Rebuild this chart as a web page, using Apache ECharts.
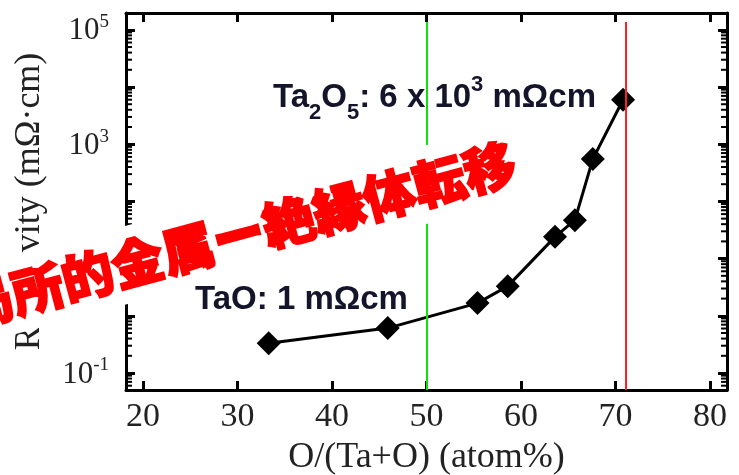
<!DOCTYPE html>
<html>
<head>
<meta charset="utf-8">
<script src="https://cdn.jsdelivr.net/npm/echarts@6/dist/echarts.min.js"></script>
<style>
  html, body { margin: 0; padding: 0; background: #fff; }
  #chart { width: 739px; height: 475px; }
</style>
</head>
<body>
<div id="chart"></div>
<script>
// Resistivity of TaOx films versus oxygen content
const oxygenPct   = [33.3, 45.9, 55.4, 58.6, 63.6, 65.7, 67.6, 70.8];
const resistivity = [0.33, 0.61, 1.67, 3.3, 24, 47, 550, 6000];

// axis ticks
const xTicks      = [20, 30, 40, 50, 60, 70, 80];
const yMajorTicks = [0.1, 1, 10, 100, 1000, 10000, 100000];
const yLabelTicks = [0.1, 10, 1000, 100000];

// reference compositions: TaO and Ta2O5
const taoPct   = 50;
const ta2o5Pct = 71.1;

const xMin = 18.2, xMax = 81.8;
const yMin = Math.pow(10, -1.297), yMax = Math.pow(10, 5.294);

// log minor ticks (2..9 in each decade)
const yMinorTicks = [];
for (let e = -2; e <= 5; e++) {
  for (let m = 2; m <= 9; m++) {
    const v = m * Math.pow(10, e);
    if (v > yMin && v < yMax) yMinorTicks.push(v);
  }
}

const serif = '"Liberation Serif", "Times New Roman", serif';
const sans = '"Liberation Sans", Arial, sans-serif';
const axisColor = '#000';
const textColor = '#222';

const chart = echarts.init(document.getElementById('chart'), null, { renderer: 'canvas' });

const lineStyle = { color: axisColor, width: 3 };
const majorTick = { show: true, inside: true, length: 9, lineStyle: { color: axisColor, width: 3 } };

const yBase = {
  type: 'log', logBase: 10, min: yMin, max: yMax,
  splitLine: { show: false },
  axisLine: { show: true, lineStyle: lineStyle },
  axisTick: Object.assign({}, majorTick, { customValues: yMajorTicks }),
  axisLabel: { show: false }
};

const xBase = {
  type: 'value', min: xMin, max: xMax,
  splitLine: { show: false },
  axisLine: { show: true, lineStyle: lineStyle },
  axisTick: Object.assign({}, majorTick, { customValues: xTicks }),
  axisLabel: { show: false }
};

// short inward minor ticks on the frame, placed by the log scale
function minorTickSeries(xEdge, offset) {
  return {
    type: 'scatter',
    xAxisIndex: 0,
    yAxisIndex: 0,
    silent: true,
    clip: false,
    z: 1,
    symbol: 'rect',
    symbolSize: [6, 2],
    symbolOffset: [offset, 0],
    itemStyle: { color: axisColor, opacity: 1 },
    emphasis: { disabled: true },
    data: yMinorTicks.map(v => [xEdge, v])
  };
}

const option = {
  backgroundColor: '#fff',
  animation: false,
  grid: { left: 126, right: 12, top: 13, bottom: 85, containLabel: false, outerBoundsMode: 'none' },
  xAxis: [
    Object.assign({}, xBase, {
      position: 'bottom',
      axisLabel: {
        show: true, customValues: xTicks, margin: 10,
        color: textColor, fontFamily: serif, fontSize: 34
      },
      name: 'O/(Ta+O) (atom%)',
      nameLocation: 'middle',
      nameGap: 50,
      nameTextStyle: { color: textColor, fontFamily: serif, fontSize: 36 }
    }),
    Object.assign({}, xBase, { position: 'top' })
  ],
  yAxis: [
    Object.assign({}, yBase, {
      position: 'left',
      axisLabel: {
        show: true, customValues: yLabelTicks, margin: 17,
        formatter: function (v) {
          const e = Math.round(Math.log10(v));
          if (e % 2 === 0) return '';
          return '{b|10}{s|' + (e < 0 ? '-' + (-e) : e) + '}';
        },
        rich: {
          b: { fontFamily: serif, fontSize: 31, color: textColor, lineHeight: 34, verticalAlign: 'bottom' },
          s: { fontFamily: serif, fontSize: 19, color: textColor, lineHeight: 34, verticalAlign: 'top' }
        }
      },
      name: 'Resistivity (mΩ·cm)',
      nameLocation: 'middle',
      nameGap: 78,
      nameTextStyle: { color: textColor, fontFamily: serif, fontSize: 36 }
    }),
    Object.assign({}, yBase, { position: 'right' })
  ],
  series: [
    minorTickSeries(xMin, 3),
    minorTickSeries(xMax, -3),
    {
      type: 'line',
      xAxisIndex: 0,
      yAxisIndex: 0,
      data: oxygenPct.map((x, i) => [x, resistivity[i]]),
      symbol: 'diamond',
      symbolSize: 24,
      itemStyle: { color: '#000' },
      lineStyle: { color: '#000', width: 3 },
      z: 3,
      markLine: {
        silent: true,
        symbol: 'none',
        z: 6,
        label: { show: false },
        data: [
          [{ coord: [taoPct, Math.pow(10, 5.136)], lineStyle: { color: '#10e010', width: 2, type: 'solid' } },
           { coord: [taoPct, yMin] }],
          [{ coord: [ta2o5Pct, Math.pow(10, 5.136)], lineStyle: { color: '#ff2020', width: 2, type: 'solid' } },
           { coord: [ta2o5Pct, yMin] }]
        ]
      }
    }
  ],
  graphic: [
    {
      type: 'text', left: 273, top: 74, z: 10,
      style: {
        text: '{n|Ta}{d|2}{n|O}{d|5}{n|: 6 x 10}{u|3}{n| mΩcm}',
        rich: {
          n: { fontFamily: sans, fontWeight: 'bold', fontSize: 33, fill: '#14142a', lineHeight: 40, verticalAlign: 'middle' },
          d: { fontFamily: sans, fontWeight: 'bold', fontSize: 22, fill: '#14142a', lineHeight: 40, verticalAlign: 'bottom', padding: [0, 0, -6, 0] },
          u: { fontFamily: sans, fontWeight: 'bold', fontSize: 22, fill: '#14142a', lineHeight: 40, verticalAlign: 'top', padding: [-4, 0, 0, 0] }
        }
      }
    },
    {
      type: 'text', left: 195, top: 283, z: 10,
      style: {
        text: 'TaO: 1 mΩcm',
        font: 'bold 33px ' + sans,
        fill: '#14142a'
      }
    },
    {
      type: 'group', x: -38, y: 309, rotation: 15 * Math.PI / 180, z: 100,
      children: [
        { type: 'rect', z: 100, shape: { x: -40, y: -38, width: 605, height: 76 }, style: { fill: '#fff' } },
        {
          type: 'text', z: 101, x: 0, y: 0,
          style: {
            text: '局所的金属ー絶縁体転移',
            font: '900 52px "Noto Sans CJK JP", "Noto Sans CJK SC", sans-serif',
            fill: '#ff0000',
            stroke: '#ff0000',
            lineWidth: 2,
            textAlign: 'left',
            textVerticalAlign: 'middle'
          }
        }
      ]
    }
  ]
};

chart.setOption(option);
</script>
</body>
</html>
